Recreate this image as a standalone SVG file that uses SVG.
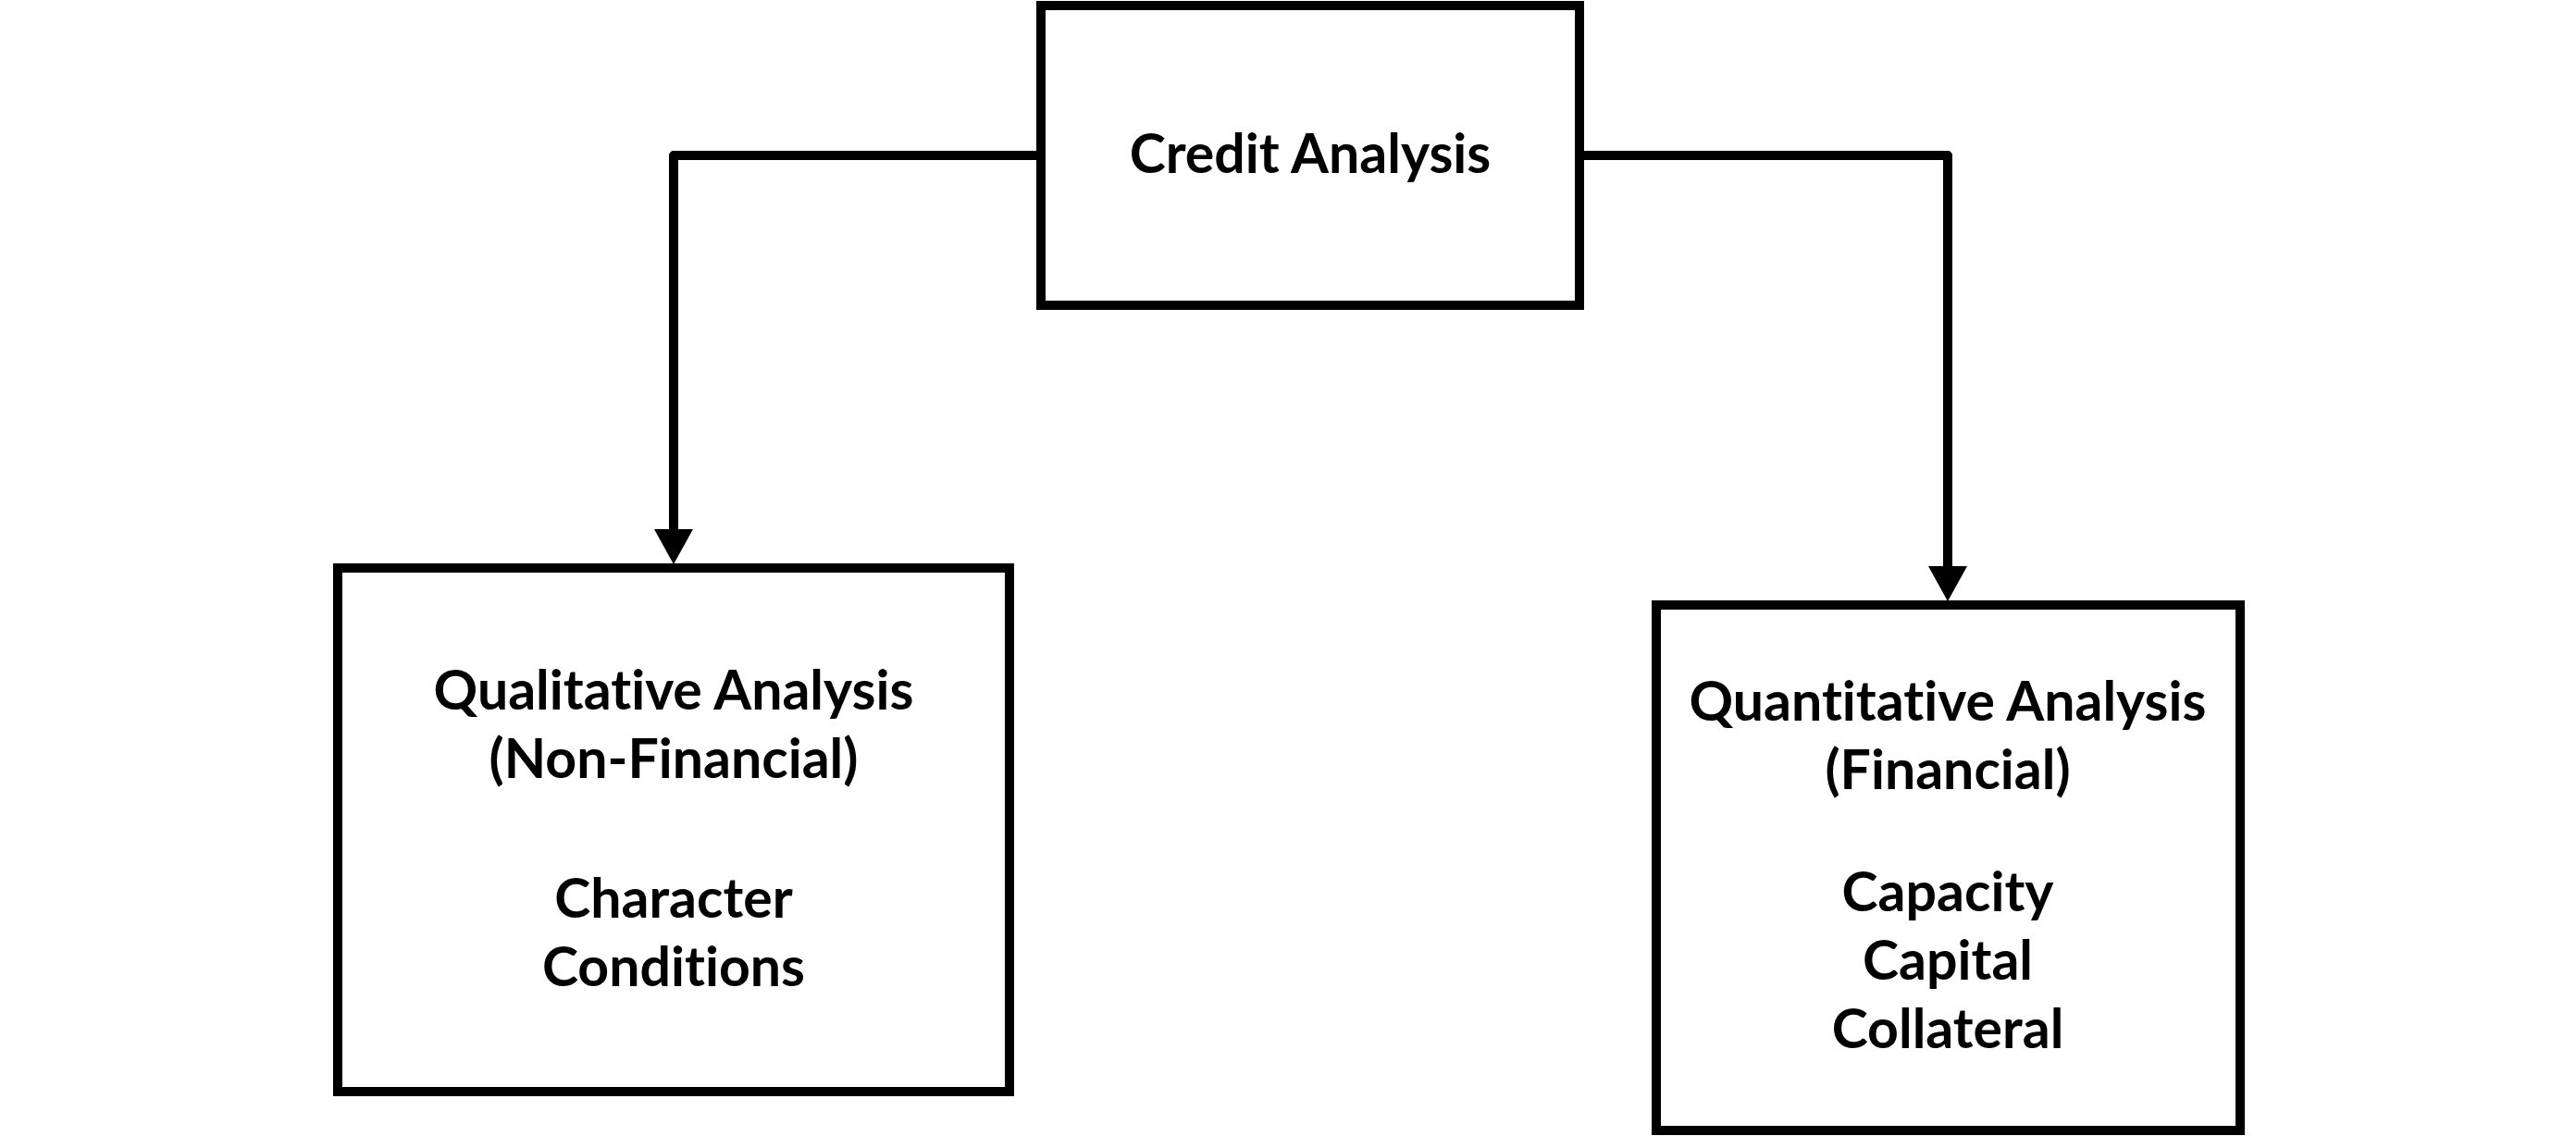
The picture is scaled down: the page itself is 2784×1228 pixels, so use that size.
<svg xmlns="http://www.w3.org/2000/svg" width="2784" height="1228" viewBox="0 0 2784 1228">
<style>
.box{fill:#fff;stroke:#000;stroke-width:10}
.lbl{font-family:Lato,"Open Sans","Liberation Sans",sans-serif;font-weight:700;font-size:59px;fill:#000;text-anchor:middle;font-variant-ligatures:none;font-feature-settings:"liga" 0,"dlig" 0}
.conn{fill:none;stroke:#000;stroke-width:10;stroke-linejoin:round}
</style>
<defs>
<marker id="arr" markerUnits="userSpaceOnUse" markerWidth="40" markerHeight="44" viewBox="0 -22 40 44" refX="4" refY="0" orient="auto">
<path d="M0,-21 L38,0 L0,21 Z" fill="#000"/>
</marker>
</defs>
<rect width="2784" height="1228" fill="#fff"/>
<g id="connectors">
<path class="conn" d="M1125,168 H728 V576" marker-end="url(#arr)"/>
<path class="conn" d="M1707,168 H2105 V616" marker-end="url(#arr)"/>
</g>
<g id="credit-analysis">
<rect class="box" x="1125" y="6" width="582" height="324"/>
<text class="lbl" x="1416" y="187">Credit Analysis</text>
</g>
<g id="qualitative-analysis">
<rect class="box" x="365" y="614" width="726" height="566"/>
<text class="lbl" x="728" y="767">Qualitative Analysis</text>
<text class="lbl" x="728" y="841">(Non-Financial)</text>
<text class="lbl" x="728" y="992">Character</text>
<text class="lbl" x="728" y="1066">Conditions</text>
</g>
<g id="quantitative-analysis">
<rect class="box" x="1790" y="654" width="631" height="568"/>
<text class="lbl" x="2105" y="779">Quantitative Analysis</text>
<text class="lbl" x="2105" y="853">(Financial)</text>
<text class="lbl" x="2105" y="985">Capacity</text>
<text class="lbl" x="2105" y="1059">Capital</text>
<text class="lbl" x="2105" y="1133">Collateral</text>
</g>
</svg>
